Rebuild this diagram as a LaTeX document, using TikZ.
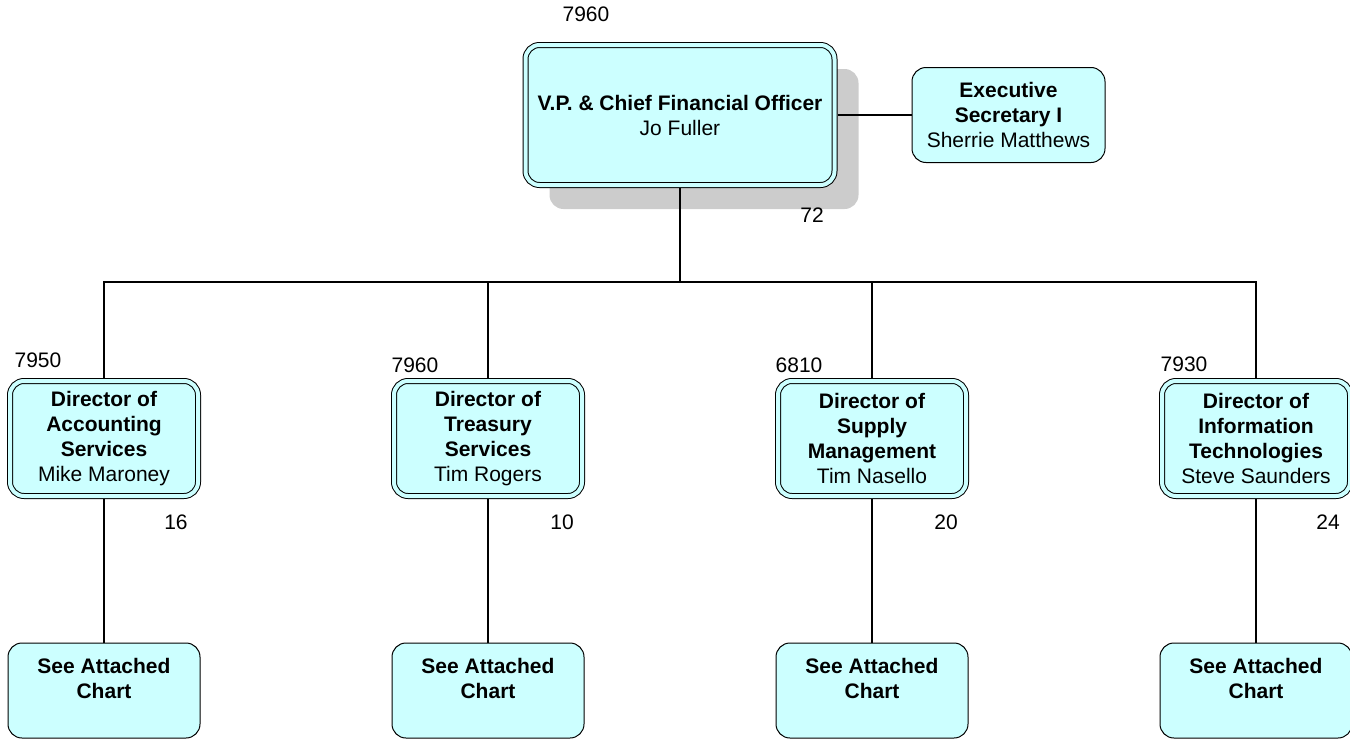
\documentclass[tikz,border=0pt]{standalone}
\usepackage{fontspec}
\setmainfont{Liberation Sans}
\usetikzlibrary{shadows}
\definecolor{boxcyan}{HTML}{CCFFFF}
\definecolor{shadegray}{HTML}{CCCCCC}
\tikzstyle{vpbox}=[rounded corners=7pt,
                   draw=black,
                   line width=0.5pt,
                   double=boxcyan,
                   double distance=2pt,
                   fill=boxcyan,
                   outer sep=1.5pt,
                   inner sep=0pt,
                   align=center,
                   minimum width=154.5pt,
                   minimum height=70pt,
                   drop shadow={shadow xshift=12pt,shadow yshift=-12pt,fill=shadegray,opacity=1}]
\tikzstyle{dirbox}=[rounded corners=7pt,
                    draw=black,
                    line width=0.5pt,
                    double=boxcyan,
                    double distance=2pt,
                    fill=boxcyan,
                    outer sep=1.5pt,
                    inner sep=0pt,
                    align=center,
                    minimum width=94pt,
                    minimum height=57.5pt]
\tikzstyle{plainbox}=[rounded corners=7pt,
                      draw=black,
                      line width=0.5pt,
                      fill=boxcyan,
                      inner sep=0pt,
                      align=center,
                      minimum width=96pt,
                      minimum height=47.5pt]

\begin{document}
\begin{tikzpicture}[x=0.5pt,y=-0.5pt,every node/.style={font=\fontsize{10.5}{12.5}\selectfont}]
    \useasboundingbox (0,0) rectangle (1350,739);
    \node[vpbox] (vp) at (680,115) {\textbf{V.P. \& Chief Financial Officer}\\Jo Fuller};
    \node[plainbox, minimum width=96.5pt] (sec) at (1008.5,115) {\textbf{Executive}\\\textbf{Secretary I}\\Sherrie Matthews};
    \node (vpcode) at (586,14) {7960};
    \node (vpstaff) at (812,215) {72};

    \node[dirbox] (acct) at (104,438.5) {\textbf{Director of}\\\textbf{Accounting}\\\textbf{Services}\\Mike Maroney};
    \node[dirbox] (treas) at (488,438.5) {\textbf{Director of}\\\textbf{Treasury}\\\textbf{Services}\\Tim Rogers};
    \node[dirbox] (supply) at (872,438.5) {\textbf{Director of}\\\textbf{Supply}\\\textbf{Management}\\Tim Nasello};
    \node[dirbox] (it) at (1256,438.5) {\textbf{Director of}\\\textbf{Information}\\\textbf{Technologies}\\Steve Saunders};

    \node (acctcode) at (38,360) {7950};
    \node (treascode) at (415,365) {7960};
    \node (supplycode) at (799,365) {6810};
    \node (itcode) at (1184,364) {7930};
    \node (acctstaff) at (176,522) {16};
    \node (treasstaff) at (562,522) {10};
    \node (supplystaff) at (946,522) {20};
    \node (itstaff) at (1328,522) {24};

    \node[plainbox] (acctchart) at (104,690.5) {\textbf{See Attached}\\\textbf{Chart}\\\mbox{}};
    \node[plainbox] (treaschart) at (488,690.5) {\textbf{See Attached}\\\textbf{Chart}\\\mbox{}};
    \node[plainbox] (supplychart) at (872,690.5) {\textbf{See Attached}\\\textbf{Chart}\\\mbox{}};
    \node[plainbox] (itchart) at (1256,690.5) {\textbf{See Attached}\\\textbf{Chart}\\\mbox{}};

    \coordinate (bus) at (680,282);
    \draw[line width=0.6pt] (vp.east) -- (sec.west)
        (vp.south) -- (bus)
        (acct.north) |- (bus) -| (it.north)
        (treas.north) -- (treas.north |- bus)
        (supply.north) -- (supply.north |- bus)
        (acct.south) -- (acctchart.north)
        (treas.south) -- (treaschart.north)
        (supply.south) -- (supplychart.north)
        (it.south) -- (itchart.north);
\end{tikzpicture}
\end{document}
